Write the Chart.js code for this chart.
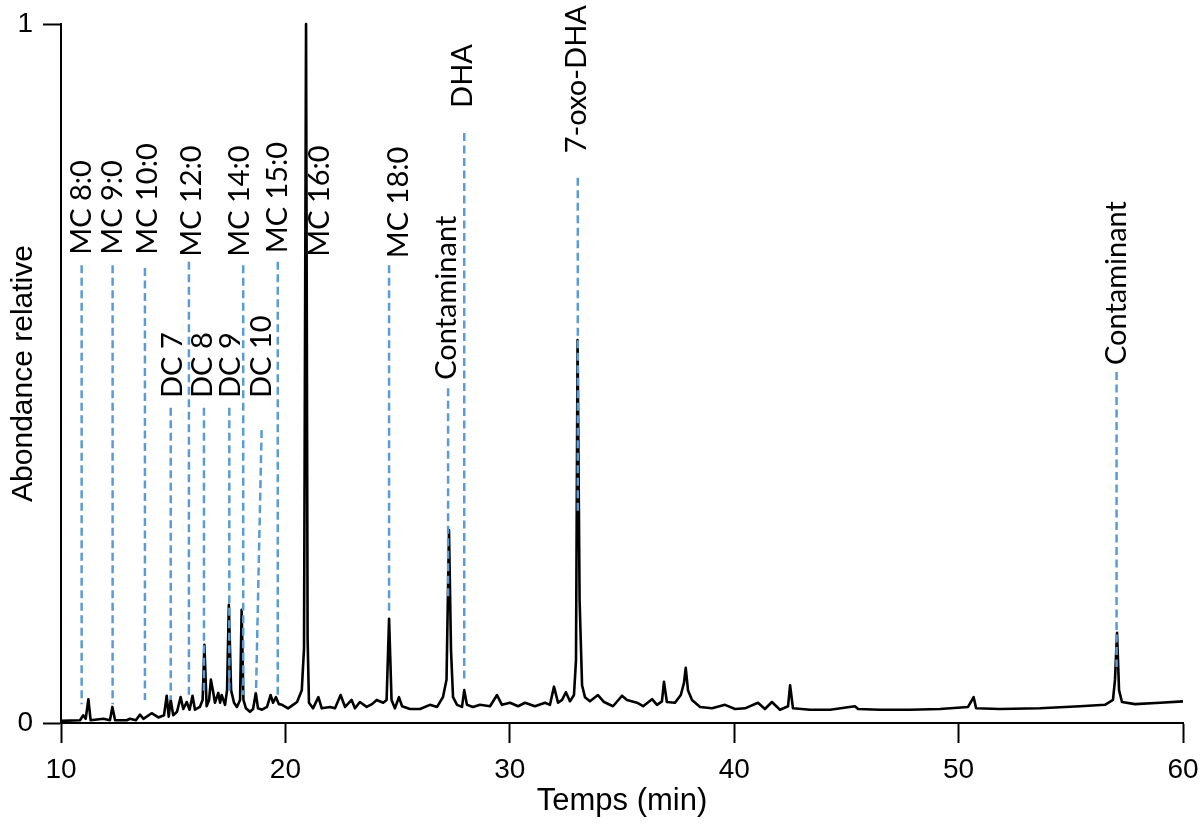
<!DOCTYPE html>
<html>
<head>
<meta charset="utf-8">
<script src="https://cdn.jsdelivr.net/npm/chart.js@4.4.1/dist/chart.umd.min.js"></script>
<style>
  body { margin: 0; background: #fff; }
  #wrap { width: 1201px; height: 830px; position: relative; }
</style>
</head>
<body>
<div id="wrap"><canvas id="myChart"></canvas></div>
<script>
// chromatogram trace (time in min, relative abundance)
const traceTime = [
  10.00,10.85,10.99,11.10,11.22,11.32,11.89,12.18,12.29,12.41,
  12.93,13.07,13.34,13.52,13.67,14.04,14.34,14.59,14.71,14.80,
  14.89,15.00,15.17,15.33,15.45,15.60,15.73,15.86,15.97,16.19,
  16.31,16.39,16.49,16.60,16.68,16.79,16.86,17.01,17.09,17.16,
  17.31,17.40,17.48,17.58,17.71,17.84,17.98,18.05,18.13,18.24,
  18.42,18.56,18.68,18.78,18.96,19.18,19.34,19.45,19.58,19.71,
  19.85,20.12,20.34,20.52,20.73,20.83,20.92,20.99,21.05,21.23,
  21.47,21.62,21.99,22.21,22.46,22.66,22.95,23.10,23.32,23.62,
  23.86,24.07,24.36,24.51,24.62,24.73,24.88,25.06,25.20,25.55,
  26.00,26.44,26.76,27.02,27.18,27.29,27.38,27.47,27.65,27.87,
  27.97,28.09,28.36,28.67,29.12,29.43,29.65,30.01,30.37,30.68,
  31.12,31.57,31.79,31.97,32.15,32.33,32.50,32.68,32.86,32.95,
  33.02,33.11,33.22,33.35,33.57,33.93,34.20,34.60,35.00,35.22,
  35.67,35.94,36.34,36.56,36.78,36.87,37.00,37.36,37.62,37.76,
  37.84,37.94,38.12,38.48,39.01,39.59,40.04,40.48,41.06,41.37,
  41.68,42.04,42.40,42.49,42.62,43.38,44.27,45.38,45.52,46.50,
  47.83,49.17,50.42,50.67,50.78,51.84,53.63,55.41,56.52,56.88,
  56.97,57.06,57.15,57.28,57.86,58.98,60.00
];
const traceAbund = [
  0.003,0.004,0.011,0.006,0.034,0.004,0.006,0.004,0.023,0.004,
  0.004,0.006,0.004,0.012,0.006,0.014,0.008,0.011,0.039,0.009,
  0.033,0.011,0.016,0.037,0.020,0.030,0.019,0.039,0.019,0.023,
  0.033,0.112,0.024,0.033,0.062,0.043,0.029,0.043,0.029,0.040,
  0.026,0.047,0.169,0.047,0.029,0.023,0.033,0.162,0.033,0.021,
  0.016,0.020,0.043,0.021,0.019,0.023,0.040,0.029,0.037,0.027,
  0.026,0.021,0.026,0.030,0.047,0.107,1.000,0.120,0.029,0.021,
  0.037,0.021,0.023,0.021,0.040,0.023,0.033,0.021,0.030,0.023,
  0.027,0.033,0.029,0.033,0.149,0.033,0.021,0.037,0.024,0.020,
  0.020,0.026,0.023,0.037,0.062,0.276,0.104,0.037,0.026,0.023,
  0.047,0.026,0.023,0.026,0.024,0.040,0.026,0.029,0.024,0.029,
  0.024,0.029,0.026,0.052,0.029,0.033,0.044,0.031,0.040,0.090,
  0.548,0.176,0.054,0.037,0.031,0.040,0.030,0.024,0.039,0.033,
  0.029,0.024,0.034,0.026,0.031,0.059,0.030,0.029,0.040,0.057,
  0.079,0.047,0.033,0.023,0.021,0.026,0.020,0.021,0.029,0.020,
  0.030,0.019,0.024,0.054,0.021,0.019,0.019,0.024,0.020,0.019,
  0.019,0.020,0.023,0.037,0.021,0.020,0.021,0.024,0.026,0.033,
  0.062,0.129,0.047,0.030,0.027,0.029,0.031
];

// peak annotations
const peakNames = ['MC 8:0','MC 9:0','MC 10:0','DC 7','MC 12:0','DC 8','DC 9','MC 14:0','DC 10','MC 15:0','MC 16:0','MC 18:0','Contaminant','DHA','7-oxo-DHA','Contaminant'];
const labelTime = [10.94,12.28,13.88,14.99,15.84,16.33,17.58,17.98,18.96,19.67,21.54,25.06,27.20,27.91,33.00,57.06];
const labelBase = [0.670,0.670,0.670,0.465,0.667,0.465,0.465,0.667,0.465,0.672,0.667,0.665,0.491,0.880,0.815,0.512];

// dashed marker lines (no marker for MC 16:0)
const dashTimeTop    = [10.92,12.30,13.74,14.89,15.70,16.37,17.50,18.12,18.94,19.66,24.62,27.25,27.97,33.03,57.04];
const dashTimeBottom = [10.92,12.30,13.74,14.89,15.70,16.37,17.50,18.12,18.69,19.66,24.62,27.25,27.97,33.03,57.04];
const dashTop    = [0.655,0.655,0.651,0.451,0.660,0.451,0.451,0.655,0.419,0.660,0.655,0.479,0.844,0.780,0.502];
const dashBottom = [0.027,0.027,0.033,0.033,0.040,0.040,0.040,0.040,0.043,0.035,0.160,0.180,0.060,0.300,0.080];

const xTicks = [10, 20, 30, 40, 50, 60];
const yTicks = [0, 1];

const datasets = [];
dashTop.forEach((top, i) => {
    datasets.push({
        data: [{x: dashTimeTop[i], y: top}, {x: dashTimeBottom[i], y: dashBottom[i]}],
        borderColor: '#5b9bd5',
        borderWidth: 2.5,
        borderDash: [8, 4.5],
        pointRadius: 0,
        order: 1
    });
});
datasets.push({
    data: traceTime.map((t, i) => ({x: t, y: traceAbund[i]})),
    borderColor: '#000',
    borderWidth: 2.6,
    borderJoinStyle: 'round',
    pointRadius: 0,
    tension: 0,
    clip: 6,
    order: 2
});

const peakLabels = {
    id: 'peakLabels',
    afterDatasetsDraw(chart) {
        const ctx = chart.ctx;
        const xs = chart.scales.x, ys = chart.scales.y;
        ctx.save();
        ctx.fillStyle = '#000';
        ctx.font = '29px Lato';
        ctx.textAlign = 'left';
        ctx.textBaseline = 'middle';
        peakNames.forEach((name, i) => {
            ctx.save();
            ctx.translate(xs.getPixelForValue(labelTime[i]), ys.getPixelForValue(labelBase[i]));
            ctx.rotate(-Math.PI / 2);
            ctx.fillText(name, 0, 0);
            ctx.restore();
        });
        ctx.restore();
    }
};

new Chart('myChart', {
    type: 'line',
    data: { datasets: datasets },
    options: {
        responsive: true,
        maintainAspectRatio: false,
        animation: false,
        layout: { padding: { top: 24, right: 18, left: 0, bottom: 0 } },
        plugins: { legend: { display: false }, tooltip: { enabled: false } },
        scales: {
            x: {
                type: 'linear',
                min: 10, max: 60,
                afterBuildTicks: s => { s.ticks = xTicks.map(v => ({value: v})); },
                afterFit: s => { s.height = 107; s.paddingLeft = 0; s.paddingRight = 0; },
                border: { display: true, color: '#000', width: 2 },
                grid: { drawOnChartArea: false, drawTicks: true, tickLength: 20, tickWidth: 2, tickColor: '#000' },
                ticks: { color: '#000', padding: 10, font: { family: 'Liberation Sans', size: 28 } },
                title: { display: true, text: 'Temps (min)', color: '#000', padding: { top: 0, bottom: 10 }, font: { family: 'Liberation Sans', size: 31 } }
            },
            y: {
                min: 0, max: 1,
                afterBuildTicks: s => { s.ticks = yTicks.map(v => ({value: v})); },
                afterFit: s => { s.width = 61; s.paddingTop = 0; s.paddingBottom = 0; },
                border: { display: true, color: '#000', width: 2 },
                grid: { drawOnChartArea: false, drawTicks: true, tickLength: 18, tickWidth: 2, tickColor: '#000' },
                ticks: { color: '#000', padding: 10, font: { family: 'Liberation Sans', size: 28 } },
                title: { display: true, text: 'Abondance relative', color: '#000', padding: { top: 6, bottom: 0 }, font: { family: 'Liberation Sans', size: 30 } }
            }
        }
    },
    plugins: [peakLabels]
});
</script>
</body>
</html>
